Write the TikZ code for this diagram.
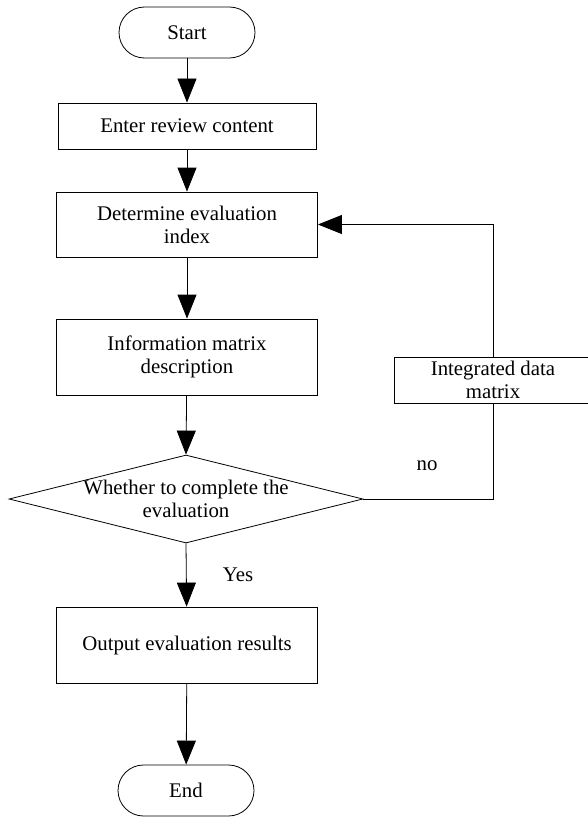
\documentclass[tikz,border=0pt]{standalone}
\usepackage{fontspec}
\setmainfont{Liberation Serif}
\usetikzlibrary{arrows.meta,positioning,shapes.geometric}

\begin{document}
\begin{tikzpicture}[x=1bp, y=-1bp,
        every node/.style={font=\fontsize{20.9}{23.1}\selectfont},
        termbox/.style={draw, line width=0.8bp, rounded corners=25.5bp,
                     minimum width=136bp, minimum height=51bp},
        stepbox/.style={draw, line width=0.8bp, minimum width=261bp,
                     minimum height=76bp, align=center},
        decbox/.style={draw, diamond, line width=0.8bp, inner sep=0pt,
                     minimum width=354bp, minimum height=88bp},
        arr/.style={-{Triangle[length=24bp, width=19bp]}, line width=0.8bp}
      ]
        \useasboundingbox (0,0) rectangle (588,817);
        \node[termbox] (start) at (187, 32.5) {Start};
        \node[stepbox, minimum width=258bp, minimum height=46bp] (enter)
          at (187, 126) {Enter review content};
        \node[stepbox, minimum height=65bp] (det) at (187, 224.5)
          {Determine evaluation\\index};
        \node[stepbox] (info) at (187, 357) {Information matrix\\description};
        \node[decbox, label={[align=center]center:Whether to complete the\\evaluation}]
          (dec) at (186, 499) {};
        \node[stepbox] (out) at (187, 645) {Output evaluation results};
        \node[termbox] (end) at (186, 790.5) {End};
        \node[stepbox, minimum width=198bp, minimum height=46bp] (integ)
          at (493, 380) {Integrated data\\matrix};
        \node (no) at (427, 466) {no};
        \node (yes) at (238, 575) {Yes};
        \draw[arr] (start)--(enter); \draw[arr] (enter)--(det);
        \draw[arr] (det)--(info); \draw[arr] (info)--(dec.north);
        \draw[arr] (dec.south)--(out); \draw[arr] (out)--(end);
        \draw[line width=0.8bp] (dec.east) -| (integ.south);
        \draw[arr] (integ.north) |- (det.east);
      \end{tikzpicture}
\end{document}
